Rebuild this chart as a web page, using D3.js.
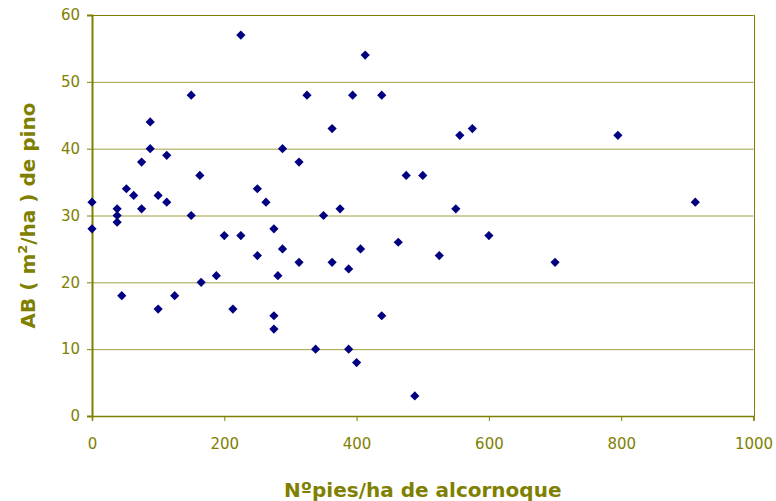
<!DOCTYPE html>
<html>
<head>
<meta charset="utf-8">
<script src="https://cdn.jsdelivr.net/npm/d3@7"></script>
<style>
  html, body { margin: 0; padding: 0; background: #ffffff; }
  svg { display: block; }
</style>
</head>
<body>
<div id="chart"></div>
<script>
// Data
const piesAlcornoque = [0, 0, 38, 38, 38, 45, 52, 63, 75, 75, 88, 88, 100, 100, 113, 113, 125, 150, 150, 163, 165, 188, 200, 213, 225, 225, 250, 250, 263, 275, 275, 275, 281, 288, 288, 313, 313, 325, 338, 350, 363, 363, 375, 388, 388, 394, 400, 406, 413, 438, 438, 463, 475, 488, 500, 525, 550, 556, 575, 600, 700, 795, 912];
const abPino = [32, 28, 31, 30, 29, 18, 34, 33, 38, 31, 44, 40, 33, 16, 39, 32, 18, 48, 30, 36, 20, 21, 27, 16, 57, 27, 34, 24, 32, 28, 15, 13, 21, 40, 25, 38, 23, 48, 10, 30, 43, 23, 31, 22, 10, 48, 8, 25, 54, 48, 15, 26, 36, 3, 36, 24, 31, 42, 43, 27, 23, 42, 32];
const xTicks = [0, 200, 400, 600, 800, 1000];
const yTicks = [0, 10, 20, 30, 40, 50, 60];
const xTitle = "Nºpies/ha de alcornoque";

const W = 776, H = 501;
const margin = { left: 92, right: 22.5, top: 15, bottom: 85 };
const olive = "#808000";

const svg = d3.select("#chart").append("svg")
  .attr("width", W).attr("height", H);

const x = d3.scaleLinear().domain([0, 1000]).range([margin.left, W - margin.right]);
const y = d3.scaleLinear().domain([0, 60]).range([H - margin.bottom, margin.top]);

// Gridlines
const grid = svg.append("g")
  .attr("transform", `translate(${margin.left},0)`)
  .call(d3.axisLeft(y).tickValues(yTicks).tickSize(-(W - margin.left - margin.right)).tickFormat(""));
grid.select(".domain").remove();
grid.selectAll("line").attr("stroke", "#a0a040").attr("stroke-width", 1);

// Right border
svg.append("line")
  .attr("x1", Math.round(x(1000)) + 0.5).attr("x2", Math.round(x(1000)) + 0.5)
  .attr("y1", y(60)).attr("y2", y(0))
  .attr("stroke", olive).attr("stroke-width", 1);
// Top border
svg.append("line")
  .attr("x1", x(0)).attr("x2", x(1000))
  .attr("y1", Math.round(y(60)) + 0.5).attr("y2", Math.round(y(60)) + 0.5)
  .attr("stroke", olive).attr("stroke-width", 1);

// Axes
const fontFam = "'DejaVu Sans', Verdana, sans-serif";
const xAxis = svg.append("g")
  .attr("transform", `translate(0,${y(0)})`)
  .call(d3.axisBottom(x).tickValues(xTicks).tickSize(5).tickPadding(17).tickFormat(d3.format("d")));
const yAxis = svg.append("g")
  .attr("transform", `translate(${x(0)},0)`)
  .call(d3.axisLeft(y).tickValues(yTicks).tickSize(5).tickPadding(7).tickFormat(d3.format("d")));

[xAxis, yAxis].forEach(g => {
  g.select(".domain").attr("stroke", olive).attr("stroke-width", 2);
  g.selectAll(".tick line").attr("stroke", olive);
  g.selectAll(".tick text").attr("fill", olive)
    .style("font-family", fontFam).style("font-size", "15px");
});
xAxis.select(".domain").attr("stroke-width", 1.5);

// Points (diamonds)
svg.append("g").selectAll("path")
  .data(piesAlcornoque.map((v, i) => [v, abPino[i]]))
  .join("path")
  .attr("transform", d => `translate(${x(d[0])},${y(d[1])})`)
  .attr("d", "M0,-4.6L4.6,0L0,4.6L-4.6,0Z")
  .attr("fill", "#000080");

// X title
svg.append("text")
  .attr("x", (x(0) + x(1000)) / 2)
  .attr("y", 497)
  .attr("text-anchor", "middle")
  .attr("fill", olive)
  .style("font-family", fontFam).style("font-weight", "bold").style("font-size", "20px")
  .text(xTitle);

// Y title with superscript
const yt = svg.append("text")
  .attr("transform", `translate(35,${(y(0) + y(60)) / 2}) rotate(-90)`)
  .attr("text-anchor", "middle")
  .attr("fill", olive)
  .style("font-family", fontFam).style("font-weight", "bold").style("font-size", "20px");
yt.append("tspan").text("AB ( m");
yt.append("tspan").attr("dy", -8).style("font-size", "13px").text("2");
yt.append("tspan").attr("dy", 8).text("/ha ) de pino");
</script>
</body>
</html>
